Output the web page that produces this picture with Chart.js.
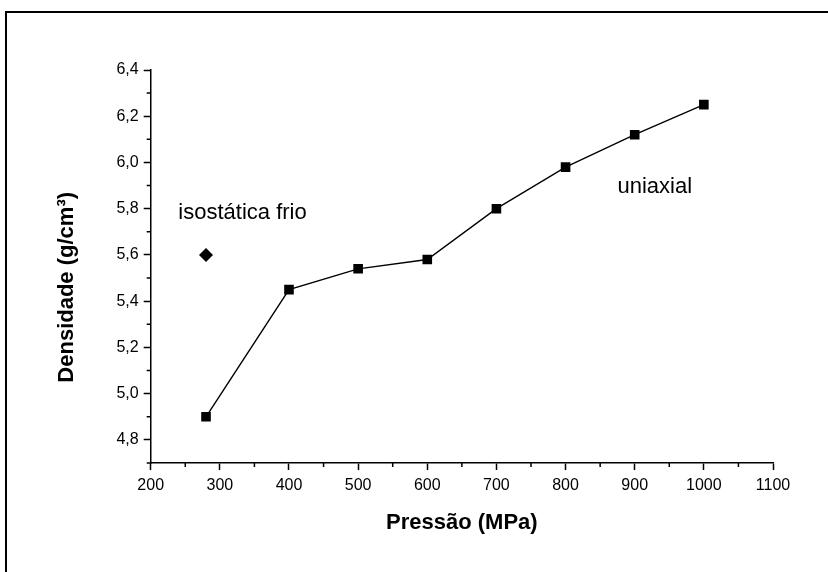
<!DOCTYPE html>
<html>
<head>
<meta charset="utf-8">
<script src="https://cdn.jsdelivr.net/npm/chart.js@4"></script>
<style>
  html, body { margin: 0; padding: 0; background: #fff; }
  #wrap { position: relative; width: 828px; height: 572px; }
  #frame { position: absolute; left: 5px; top: 11px; right: 0; bottom: 0;
           border-left: 2px solid #000; border-top: 2px solid #000; pointer-events: none; }
</style>
</head>
<body>
<div id="wrap">
  <canvas id="chart" width="828" height="572"></canvas>
  <div id="frame"></div>
</div>
<script>
// uniaxial pressing
const pressure  = [280, 400, 500, 600, 700, 800, 900, 1000];
const density   = [4.90, 5.45, 5.54, 5.58, 5.80, 5.98, 6.12, 6.25];
// cold isostatic pressing
const isoPressure = [280];
const isoDensity  = [5.60];

const xMajor = [200, 300, 400, 500, 600, 700, 800, 900, 1000, 1100];
const xMinor = [250, 350, 450, 550, 650, 750, 850, 950, 1050];
const yMajor = [4.8, 5.0, 5.2, 5.4, 5.6, 5.8, 6.0, 6.2, 6.4];
const yMinor = [4.7, 4.9, 5.1, 5.3, 5.5, 5.7, 5.9, 6.1, 6.3];

const notes = [
  { text: 'isostática frio', x: 240, y: 5.754 },
  { text: 'uniaxial',        x: 875, y: 5.867 },
];
const yTitle = 'Densidade (g/cm³)';

const sans = "'Liberation Sans', Arial, sans-serif";

const extras = {
  id: 'extras',
  afterDraw(chart) {
    const { ctx, scales: { x, y } } = chart;
    ctx.save();
    ctx.strokeStyle = '#000';
    ctx.lineWidth = 1.5;
    ctx.beginPath();
    xMinor.forEach(v => {
      const px = x.getPixelForValue(v);
      ctx.moveTo(px, y.bottom); ctx.lineTo(px, y.bottom + 4);
    });
    yMinor.forEach(v => {
      const py = y.getPixelForValue(v);
      ctx.moveTo(x.left - 4, py); ctx.lineTo(x.left, py);
    });
    ctx.stroke();
    ctx.fillStyle = '#000';
    ctx.font = '22px ' + sans;
    ctx.textBaseline = 'alphabetic';
    notes.forEach(n => ctx.fillText(n.text, x.getPixelForValue(n.x), y.getPixelForValue(n.y)));
    // y axis title, a bit below the centre of the axis as in the original
    ctx.font = 'bold 22px ' + sans;
    ctx.textAlign = 'center';
    ctx.textBaseline = 'middle';
    ctx.translate(67, y.getPixelForValue(5.46));
    ctx.rotate(-Math.PI / 2);
    ctx.fillText(yTitle, 0, 0);
    ctx.restore();
  }
};

const tickFmt = v => String(v.toFixed(1)).replace('.', ',');

new Chart(document.getElementById('chart'), {
  type: 'scatter',
  data: {
    datasets: [
      {
        label: 'uniaxial',
        data: pressure.map((p, i) => ({ x: p, y: density[i] })),
        showLine: true,
        borderColor: '#000', borderWidth: 1.4,
        pointStyle: 'rect', pointRadius: 6.8,
        pointBackgroundColor: '#000', pointBorderColor: '#000', pointBorderWidth: 0,
      },
      {
        label: 'isostática frio',
        data: isoPressure.map((p, i) => ({ x: p, y: isoDensity[i] })),
        pointStyle: 'rectRot', pointRadius: 7,
        pointBackgroundColor: '#000', pointBorderColor: '#000', pointBorderWidth: 0,
      },
    ],
  },
  options: {
    responsive: false,
    animation: false,
    layout: { padding: { top: 70, right: 55, left: 0, bottom: 0 } },
    plugins: { legend: { display: false }, tooltip: { enabled: false } },
    scales: {
      x: {
        type: 'linear', min: 200, max: 1100,
        afterFit: s => { s.height = 109; },
        afterBuildTicks: s => { s.ticks = xMajor.map(v => ({ value: v })); },
        ticks: { color: '#000', font: { family: sans, size: 16 }, padding: 6, maxRotation: 0,
                 callback: v => String(v) },
        grid: { drawOnChartArea: false, drawTicks: true, tickLength: 7, tickColor: '#000', tickWidth: 1.5 },
        border: { display: true, color: '#000', width: 1.5 },
        title: { display: true, text: 'Pressão (MPa)', color: '#000',
                 font: { family: sans, size: 22, weight: 'bold' }, padding: { top: 0, bottom: 36 } },
      },
      y: {
        type: 'linear', min: 4.7, max: 6.4,
        afterFit: s => { s.width = 150.7; },
        afterBuildTicks: s => { s.ticks = yMajor.map(v => ({ value: v })); },
        ticks: { color: '#000', font: { family: sans, size: 16 }, padding: 5, callback: tickFmt },
        grid: { drawOnChartArea: false, drawTicks: true, tickLength: 7, tickColor: '#000', tickWidth: 1.5 },
        border: { display: true, color: '#000', width: 1.5 },
      },
    },
  },
  plugins: [extras],
});
</script>
</body>
</html>
